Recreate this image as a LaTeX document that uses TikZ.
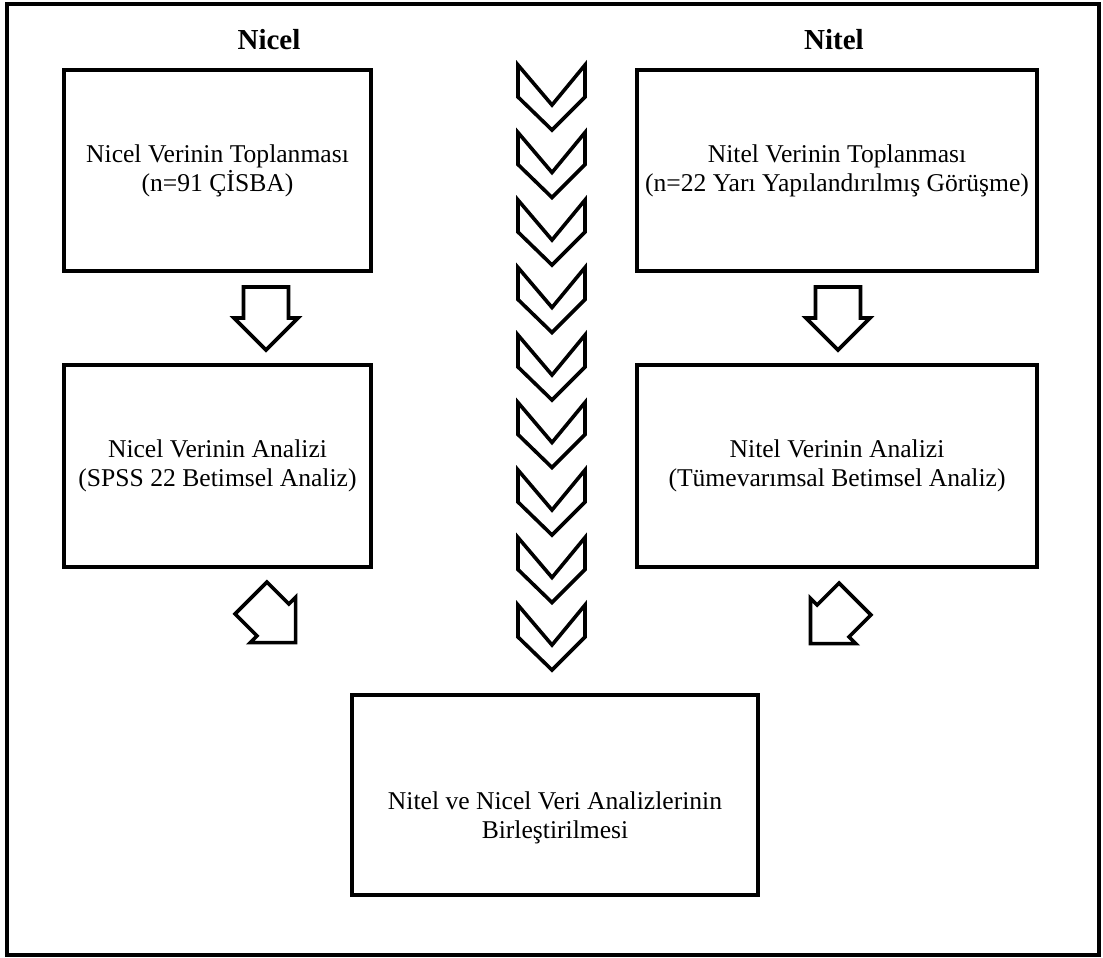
\documentclass[tikz,border=0pt]{standalone}
\usepackage{fontspec}
\setmainfont{Liberation Serif}
\begin{document}
\begin{tikzpicture}[x=0.5pt,y=-0.5pt,
  box/.style={draw, line width=2pt, rectangle, inner sep=0pt},
  txt/.style={align=center, font=\fontsize{12.8}{14.5}\selectfont},
  ttl/.style={font=\fontsize{14.5}{16}\selectfont\bfseries},
  shp/.style={draw, line width=1.8pt, fill=white, line join=miter},
  blockarrow/.pic={\draw[shp] (0,-22.5) -- (31,-22.5) -- (31,-32) -- (63,0) -- (31,32) -- (31,22.5) -- (0,22.5) -- cycle;},
  chev/.pic={\draw[shp] (-34,0) -- (0,40) -- (33,0) -- (33,32) -- (0,65) -- (-34,32) -- cycle;}]
\useasboundingbox (0,0) rectangle (1103,958);
\draw[line width=2pt] (7,4) rectangle (1099,955);
% titles
\node[ttl] (tq) at (269,40) {Nicel};
\node[ttl] (tl) at (834,40) {Nitel};
% boxes
\node[box, minimum width=153.5pt, minimum height=100.5pt] (q1) at (217.5,170.5) {};
\node[txt] (q1t) at (217.5,170.5) {Nicel Verinin Toplanması\\(n=91 ÇİSBA)};
\node[box, minimum width=153.5pt, minimum height=101pt] (q2) at (217.5,466) {};
\node[txt] (q2t) at (217.5,466) {Nicel Verinin Analizi\\(SPSS 22 Betimsel Analiz)};
\node[box, minimum width=200pt, minimum height=100.5pt] (l1) at (837,170.5) {};
\node[txt] (l1t) at (837,170.5) {Nitel Verinin Toplanması\\(n=22 Yarı Yapılandırılmış Görüşme)};
\node[box, minimum width=200pt, minimum height=101pt] (l2) at (837,466) {};
\node[txt] (l2t) at (837,466) {Nitel Verinin Analizi\\(Tümevarımsal Betimsel Analiz)};
\node[box, minimum width=203pt, minimum height=100pt] (b) at (555,795) {};
\node[txt] (bt) at (555,818) {Nitel ve Nicel Veri Analizlerinin\\Birleştirilmesi};
% block arrows
\pic[rotate=-90] at (266,287) {blockarrow};
\pic[rotate=-90] at (838,287) {blockarrow};
\pic[rotate=-45] at (251,598) {blockarrow};
\pic[rotate=-135] at (855,599) {blockarrow};
% chevrons
\foreach \k in {0,...,8} \pic at (552,{65+67.5*\k}) {chev};
\end{tikzpicture}
\end{document}
